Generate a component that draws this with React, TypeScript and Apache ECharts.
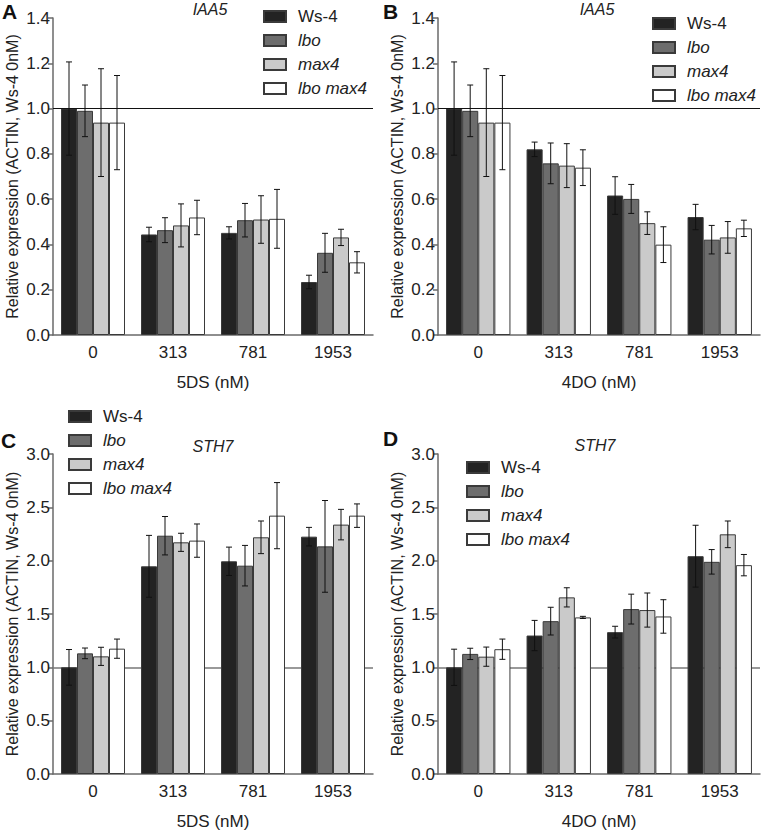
import React, { useEffect, useRef } from "react";
import * as echarts from "echarts";

const CATEGORIES = ["0", "313", "781", "1953"];
const GENOTYPES = ["Ws-4", "lbo", "max4", "lbo max4"];
const Y_TICKS_IAA5 = { min: 0, max: 1.4, interval: 0.2 };
const Y_TICKS_STH7 = { min: 0, max: 3, interval: 0.5 };

// Panel A: IAA5, 5DS
const A_WS4 = [1.0, 0.444, 0.451, 0.234];
const A_LBO = [0.99, 0.463, 0.507, 0.363];
const A_MAX4 = [0.938, 0.484, 0.51, 0.431];
const A_LBOMAX4 = [0.938, 0.519, 0.513, 0.321];
const A_WS4_ERR = [0.206, 0.032, 0.027, 0.03];
const A_LBO_ERR = [0.114, 0.055, 0.074, 0.086];
const A_MAX4_ERR = [0.238, 0.095, 0.105, 0.036];
const A_LBOMAX4_ERR = [0.208, 0.076, 0.13, 0.047];

// Panel B: IAA5, 4DO
const B_WS4 = [1.0, 0.82, 0.616, 0.521];
const B_LBO = [0.99, 0.758, 0.601, 0.421];
const B_MAX4 = [0.938, 0.748, 0.494, 0.431];
const B_LBOMAX4 = [0.938, 0.739, 0.399, 0.471];
const B_WS4_ERR = [0.206, 0.032, 0.083, 0.056];
const B_LBO_ERR = [0.114, 0.09, 0.064, 0.063];
const B_MAX4_ERR = [0.238, 0.097, 0.05, 0.07];
const B_LBOMAX4_ERR = [0.208, 0.079, 0.079, 0.036];

// Panel C: STH7, 5DS
const C_WS4 = [1.0, 1.947, 1.994, 2.225];
const C_LBO = [1.131, 2.234, 1.953, 2.134];
const C_MAX4 = [1.103, 2.172, 2.219, 2.338];
const C_LBOMAX4 = [1.175, 2.188, 2.422, 2.422];
const C_WS4_ERR = [0.167, 0.29, 0.133, 0.087];
const C_LBO_ERR = [0.05, 0.18, 0.19, 0.43];
const C_MAX4_ERR = [0.085, 0.085, 0.153, 0.143];
const C_LBOMAX4_ERR = [0.09, 0.156, 0.31, 0.11];

// Panel D: STH7, 4DO
const D_WS4 = [1.0, 1.298, 1.33, 2.042];
const D_LBO = [1.126, 1.433, 1.546, 1.989];
const D_MAX4 = [1.1, 1.656, 1.537, 2.247];
const D_LBOMAX4 = [1.17, 1.468, 1.477, 1.958];
const D_WS4_ERR = [0.17, 0.142, 0.055, 0.29];
const D_LBO_ERR = [0.053, 0.13, 0.14, 0.115];
const D_MAX4_ERR = [0.09, 0.09, 0.16, 0.125];
const D_LBOMAX4_ERR = [0.095, 0.01, 0.157, 0.1];

const FONT = "Liberation Sans, Arial, sans-serif";
const COLORS = ["#232323", "#6d6d6d", "#cacaca", "#ffffff"];
const FS = 17;

const PANELS = [
  {
    letter: "A", gene: "IAA5", xName: "5DS (nM)", ticks: Y_TICKS_IAA5,
    means: [A_WS4, A_LBO, A_MAX4, A_LBOMAX4],
    errs: [A_WS4_ERR, A_LBO_ERR, A_MAX4_ERR, A_LBOMAX4_ERR],
    grid: { left: 53, top: 18, width: 320, height: 317 },
    legend: { left: 263, top: 8 },
    title: { x: 210, y: 9 }, letterPos: { x: 2, y: 11 },
    refColor: "#111", refWidth: 1, refZ: 5,
  },
  {
    letter: "B", gene: "IAA5", xName: "4DO (nM)", ticks: Y_TICKS_IAA5,
    means: [B_WS4, B_LBO, B_MAX4, B_LBOMAX4],
    errs: [B_WS4_ERR, B_LBO_ERR, B_MAX4_ERR, B_LBOMAX4_ERR],
    grid: { left: 438, top: 18, width: 322, height: 317 },
    legend: { left: 652, top: 15 },
    title: { x: 597, y: 9 }, letterPos: { x: 383, y: 11 },
    refColor: "#111", refWidth: 1, refZ: 5,
  },
  {
    letter: "C", gene: "STH7", xName: "5DS (nM)", ticks: Y_TICKS_STH7,
    means: [C_WS4, C_LBO, C_MAX4, C_LBOMAX4],
    errs: [C_WS4_ERR, C_LBO_ERR, C_MAX4_ERR, C_LBOMAX4_ERR],
    grid: { left: 53, top: 454, width: 320, height: 320 },
    legend: { left: 68, top: 408 },
    title: { x: 213, y: 446 }, letterPos: { x: 1, y: 440 },
    refColor: "#777", refWidth: 1.5, refZ: 1,
  },
  {
    letter: "D", gene: "STH7", xName: "4DO (nM)", ticks: Y_TICKS_STH7,
    means: [D_WS4, D_LBO, D_MAX4, D_LBOMAX4],
    errs: [D_WS4_ERR, D_LBO_ERR, D_MAX4_ERR, D_LBOMAX4_ERR],
    grid: { left: 438, top: 454, width: 322, height: 320 },
    legend: { left: 466, top: 459 },
    title: { x: 595, y: 445 }, letterPos: { x: 383, y: 438 },
    refColor: "#777", refWidth: 1.5, refZ: 1,
  },
];

function buildOption() {
  const grids: any[] = [];
  const xAxes: any[] = [];
  const yAxes: any[] = [];
  const series: any[] = [];
  const legends: any[] = [];
  const graphics: any[] = [];

  PANELS.forEach((p, pi) => {
    grids.push({ ...p.grid, containLabel: false });
    xAxes.push({
      type: "category",
      gridIndex: pi,
      data: CATEGORIES,
      axisLine: { show: true, lineStyle: { color: "#6a6a6a", width: 1.5 } },
      axisTick: { show: false },
      axisLabel: { color: "#222", fontSize: FS, fontFamily: FONT, margin: 9 },
      name: p.xName,
      nameLocation: "middle",
      nameGap: 39,
      nameTextStyle: { color: "#222", fontSize: FS, fontFamily: FONT },
    });
    yAxes.push({
      type: "value",
      gridIndex: pi,
      min: p.ticks.min,
      max: p.ticks.max,
      interval: p.ticks.interval,
      axisLine: { show: true, lineStyle: { color: "#6a6a6a", width: 1.5 } },
      axisTick: { show: true, length: 5, lineStyle: { color: "#6a6a6a", width: 1.5 } },
      splitLine: { show: false },
      axisLabel: {
        color: "#222", fontSize: FS, fontFamily: FONT, margin: 3,
        formatter: (v: number) => v.toFixed(1),
      },
      name: "Relative expression (ACTIN, Ws-4 0nM)",
      nameLocation: "middle",
      nameGap: 33,
      nameRotate: 90,
      nameTextStyle: { color: "#222", fontSize: 16, fontFamily: FONT },
    });

    GENOTYPES.forEach((g, gi) => {
      const s: any = {
        type: "bar",
        name: g,
        xAxisIndex: pi,
        yAxisIndex: pi,
        data: p.means[gi],
        barGap: "0%",
        barCategoryGap: "20%",
        itemStyle: { color: COLORS[gi], borderColor: "#3a3a3a", borderWidth: 1 },
        z: 2,
      };
      if (gi === 0) {
        s.markLine = {
          silent: true,
          symbol: "none",
          z: p.refZ,
          label: { show: false },
          lineStyle: { color: p.refColor, width: p.refWidth, type: "solid" },
          data: [{ yAxis: 1 }],
        };
      }
      series.push(s);
    });

    const errData: any[] = [];
    GENOTYPES.forEach((g, gi) => {
      p.means[gi].forEach((m, ci) => {
        errData.push([ci, m, p.errs[gi][ci], gi]);
      });
    });
    series.push({
      type: "custom",
      name: "err" + pi,
      xAxisIndex: pi,
      yAxisIndex: pi,
      z: 10,
      silent: true,
      encode: { x: 0, y: 1 },
      data: errData,
      renderItem: (params: any, api: any) => {
        const cat = api.value(0);
        const mean = api.value(1);
        const err = api.value(2);
        const s = api.value(3);
        const band = api.size([1, 0])[0];
        const c = api.coord([cat, mean]);
        const x = c[0] + (-0.3 + 0.2 * s) * band;
        const yt = api.coord([cat, mean + err])[1];
        const yb = api.coord([cat, mean - err])[1];
        const cap = 3;
        const style = { stroke: "#111", lineWidth: 1 };
        return {
          type: "group",
          children: [
            { type: "line", shape: { x1: x, y1: yt, x2: x, y2: yb }, style },
            { type: "line", shape: { x1: x - cap, y1: yt, x2: x + cap, y2: yt }, style },
            { type: "line", shape: { x1: x - cap, y1: yb, x2: x + cap, y2: yb }, style },
          ],
        };
      },
    });

    legends.push({
      orient: "vertical",
      left: p.legend.left,
      top: p.legend.top,
      padding: 0,
      itemWidth: 22,
      itemHeight: 11,
      itemGap: 7,
      icon: "rect",
      selectedMode: false,
      data: GENOTYPES,
      formatter: (name: string) => (name === "Ws-4" ? `{n|${name}}` : `{i|${name}}`),
      textStyle: {
        fontFamily: FONT,
        fontSize: FS,
        lineHeight: 17,
        color: "#222",
        rich: {
          n: { fontFamily: FONT, fontSize: FS, lineHeight: 17, color: "#222", padding: [0, 0, 0, 7] },
          i: { fontFamily: FONT, fontSize: FS, lineHeight: 17, color: "#222", fontStyle: "italic", padding: [0, 0, 0, 7] },
        },
      },
    });

    graphics.push({
      type: "text",
      x: p.title.x,
      y: p.title.y,
      style: {
        text: p.gene,
        font: `italic 16px ${FONT}`,
        fill: "#222",
        textAlign: "center",
        textVerticalAlign: "middle",
      },
    });
    graphics.push({
      type: "text",
      x: p.letterPos.x,
      y: p.letterPos.y,
      style: {
        text: p.letter,
        font: `bold 21px ${FONT}`,
        fill: "#111",
        textAlign: "left",
        textVerticalAlign: "middle",
      },
    });
  });

  return {
    animation: false,
    backgroundColor: "#ffffff",
    textStyle: { fontFamily: FONT },
    grid: grids,
    xAxis: xAxes,
    yAxis: yAxes,
    legend: legends,
    series,
    graphic: graphics,
  };
}

export default function App() {
  const ref = useRef<HTMLDivElement>(null);
  useEffect(() => {
    document.body.style.margin = "0";
    if (!ref.current) return;
    const chart = echarts.init(ref.current, undefined, { renderer: "svg" });
    chart.setOption(buildOption() as any);
    return () => chart.dispose();
  }, []);
  return <div ref={ref} style={{ width: 762, height: 831 }} />;
}
